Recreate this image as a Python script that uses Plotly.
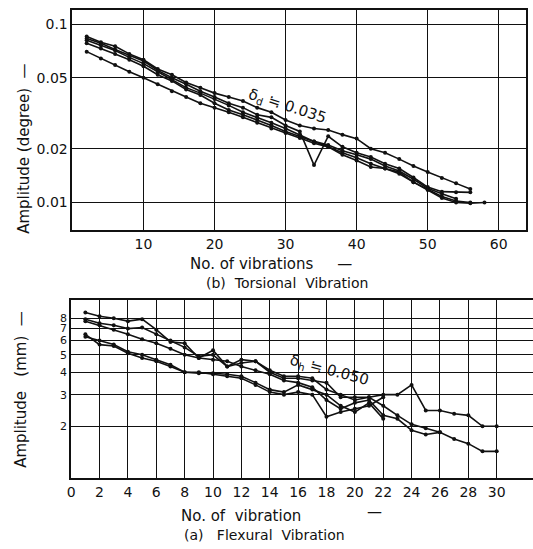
import plotly.graph_objects as go
import math

W, H = 533, 549

# ---------- (b) Torsional vibration data ----------
tors_x = [2, 4, 6, 8, 10, 12, 14, 16, 18, 20, 22, 24, 26, 28, 30,
          32, 34, 36, 38, 40, 42, 44, 46, 48, 50, 52, 54, 56, 58]
tors_1 = [0.085, 0.079, 0.075, 0.068, 0.063, 0.056, 0.052, 0.047, 0.044, 0.041, 0.039, 0.037, 0.034, 0.032, 0.029,
          0.027, 0.026, 0.0255, 0.024, 0.0228, 0.020, 0.019, 0.0175, 0.016, 0.0148, 0.0137, 0.0128, 0.0119]
tors_2 = [0.083, 0.078, 0.072, 0.067, 0.062, 0.055, 0.050, 0.046, 0.042, 0.039, 0.036, 0.034, 0.031, 0.030, 0.027,
          0.025, 0.0162, 0.0235, 0.0205, 0.019, 0.018, 0.0165, 0.0155, 0.0138, 0.0122, 0.0115, 0.0114, 0.0114]
tors_3 = [0.081, 0.076, 0.071, 0.065, 0.060, 0.054, 0.049, 0.044, 0.041, 0.038, 0.035, 0.032, 0.030, 0.028, 0.026,
          0.024, 0.022, 0.021, 0.0195, 0.0185, 0.0175, 0.016, 0.015, 0.0135, 0.012, 0.0112, 0.0105]
tors_4 = [0.078, 0.073, 0.068, 0.063, 0.058, 0.052, 0.048, 0.043, 0.040, 0.036, 0.033, 0.031, 0.029, 0.027, 0.025,
          0.0235, 0.022, 0.0205, 0.019, 0.0178, 0.0165, 0.0155, 0.0145, 0.013, 0.0118, 0.0108, 0.0102, 0.0100]
tors_5 = [0.070, 0.064, 0.059, 0.054, 0.050, 0.046, 0.042, 0.039, 0.036, 0.034, 0.032, 0.030, 0.028, 0.026, 0.0245,
          0.023, 0.0215, 0.0205, 0.0185, 0.0172, 0.0158, 0.0155, 0.0148, 0.013, 0.0118, 0.0106, 0.0100, 0.0099, 0.0100]
tors_series = [tors_1, tors_2, tors_3, tors_4, tors_5]
tors_xticks = [10, 20, 30, 40, 50, 60]
tors_yticks = [0.1, 0.05, 0.02, 0.01]
tors_ytext = ["0.1", "0.05", "0.02", "0.01"]

# ---------- (a) Flexural vibration data ----------
flex_x = list(range(1, 31))
flex_1 = [8.6, 8.2, 8.0, 7.7, 7.9, 6.9, 5.9, 5.8, 4.8, 5.3, 4.3, 4.7, 4.6, 4.0, 3.7,
          3.7, 3.6, 3.5, 2.9, 2.9, 2.9, 3.0, 3.0, 3.4, 2.45, 2.45, 2.35, 2.3, 2.0, 2.0]
flex_2 = [7.9, 7.5, 7.3, 7.0, 7.1, 6.5, 6.0, 5.5, 4.9, 5.0, 4.3, 4.5, 4.6, 4.1, 3.8,
          3.8, 3.7, 3.2, 3.0, 2.8, 2.9, 2.6, 2.3, 2.05, 1.95, 1.85]
flex_3 = [7.7, 7.3, 6.9, 6.5, 6.1, 5.8, 5.4, 5.0, 4.8, 4.7, 4.6, 4.3, 4.1, 3.9, 3.6,
          3.5, 3.3, 2.8, 2.5, 2.7, 2.8, 2.3, 2.2, 1.9, 1.8, 1.85, 1.7, 1.6, 1.45, 1.45]
flex_4 = [6.5, 5.7, 5.6, 5.1, 4.8, 4.6, 4.3, 4.0, 3.95, 3.95, 3.9, 3.8, 3.5, 3.2, 3.1,
          3.4, 3.2, 3.0, 2.6, 2.4, 2.7, 2.2]
flex_5 = [6.3, 6.0, 5.7, 5.2, 5.0, 4.7, 4.4, 4.0, 4.0, 3.9, 3.8, 3.7, 3.4, 3.1, 3.0,
          3.1, 3.0, 2.26, 2.4, 2.5, 2.6, 2.9]
flex_series = [flex_1, flex_2, flex_3, flex_4, flex_5]
flex_xticks = list(range(0, 31, 2))
flex_yticks = [2, 3, 4, 5, 6, 7, 8]

FONT = "DejaVu Sans"
INK = "#111111"

fig = go.Figure()
for s in tors_series:
    fig.add_trace(go.Scatter(x=tors_x[:len(s)], y=s, mode="lines+markers",
                             line=dict(color=INK, width=1.6),
                             marker=dict(color=INK, size=4),
                             xaxis="x", yaxis="y", showlegend=False))
for s in flex_series:
    fig.add_trace(go.Scatter(x=flex_x[:len(s)], y=s, mode="lines+markers",
                             line=dict(color=INK, width=1.6),
                             marker=dict(color=INK, size=4),
                             xaxis="x2", yaxis="y2", showlegend=False))

def px(xp):
    return xp / W

def py(yp):
    return 1 - yp / H

def axis_common(size=14):
    return dict(showgrid=True, gridcolor=INK, gridwidth=1.3, showline=True,
                linecolor=INK, linewidth=1.8, ticks="", zeroline=False,
                tickfont=dict(family=FONT, size=size, color=INK))

fig.update_layout(
    width=W, height=H, margin=dict(l=0, r=0, t=0, b=0),
    paper_bgcolor="white", plot_bgcolor="white",
    xaxis=dict(domain=[px(69), px(526)], range=[0, 63.85], anchor="y",
               tickvals=tors_xticks, mirror=True, **axis_common(14)),
    yaxis=dict(domain=[py(230), py(10)], type="log", range=[-2.154, -0.9216], anchor="x",
               tickvals=tors_yticks, ticktext=tors_ytext, mirror=True, **axis_common(14)),
    xaxis2=dict(domain=[px(67.7), 1.0], range=[0, 32.56], anchor="y2",
                tickvals=flex_xticks, mirror=True, **axis_common(14)),
    yaxis2=dict(domain=[py(478), py(300)], type="log",
                range=[math.log10(1.03), math.log10(10.1)], anchor="x2",
                tickvals=flex_yticks, mirror=False, **axis_common(11)),
)

def note(text, x, y, size=14, angle=0):
    fig.add_annotation(text=text, xref="paper", yref="paper", x=px(x), y=py(y),
                       xanchor="center", yanchor="middle", showarrow=False,
                       textangle=angle, font=dict(family=FONT, size=size, color=INK))

note("Amplitude (degree)  —", 20, 149, 15, -90)
note("No. of vibrations     —", 269, 264, 15)
note("(b)  Torsional  Vibration", 285, 283, 14)
note("δ<sub>d</sub> ≒ 0.035", 286, 106, 15, 18)

note("Amplitude   (mm)  —", 17, 389, 15, -90)
note("No. of  vibration", 239, 516, 15)
note("—", 373, 512, 15)
note("(a)   Flexural  Vibration", 262, 535, 14)
note("δ<sub>h</sub> ≒ 0.050", 328, 370, 15, 15)

fig.write_html("out.html")
